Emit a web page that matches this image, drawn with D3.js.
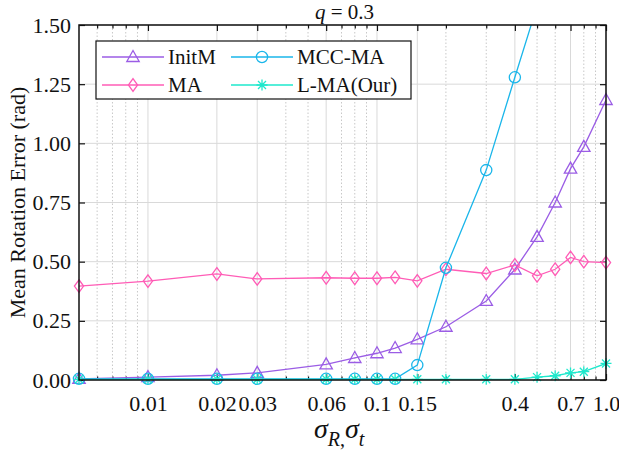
<!DOCTYPE html>
<html>
<head>
<meta charset="utf-8">
<script src="https://cdn.jsdelivr.net/npm/d3@7"></script>
<style>
  body { margin: 0; background: #fff; }
  svg { display: block; font-family: "Liberation Serif", "Times New Roman", serif; }
  .grid-major line { stroke: #d9d9d9; stroke-width: 1; }
  .grid-minor line { stroke: #c8c8c8; stroke-width: 1; stroke-dasharray: 1.5 2; }
  .tick-label { font-size: 22px; fill: #111; font-family: "Liberation Serif", "Times New Roman", serif; }
</style>
</head>
<body>
<svg id="chart" width="619" height="454"></svg>
<script>
// valores
var xValues = [0.005, 0.01, 0.02, 0.03, 0.06, 0.08, 0.1, 0.12, 0.15, 0.2, 0.3, 0.4, 0.5, 0.6, 0.7, 0.8, 1.0];
var initM = [0.005, 0.012, 0.02, 0.03, 0.066, 0.093, 0.113, 0.135, 0.172, 0.225, 0.334, 0.467, 0.605, 0.75, 0.893, 0.985, 1.183];
var ma = [0.397, 0.418, 0.448, 0.427, 0.432, 0.43, 0.43, 0.434, 0.419, 0.468, 0.45, 0.486, 0.44, 0.468, 0.518, 0.5, 0.496];
var mccMA = [0.005, 0.005, 0.005, 0.005, 0.005, 0.005, 0.005, 0.005, 0.063, 0.474, 0.887, 1.279, 1.58];
var lMA = [0.003, 0.003, 0.003, 0.003, 0.003, 0.003, 0.003, 0.003, 0.003, 0.003, 0.003, 0.003, 0.012, 0.018, 0.03, 0.035, 0.07];

var xTicks = [0.01, 0.02, 0.03, 0.06, 0.1, 0.15, 0.4, 0.7, 1.0];
var xTickLabels = ['0.01', '0.02', '0.03', '0.06', '0.1', '0.15', '0.4', '0.7', '1.0'];
var xMinor = [0.006, 0.007, 0.008, 0.009, 0.04, 0.05, 0.07, 0.08, 0.09, 0.2, 0.3, 0.5, 0.6, 0.8, 0.9];
var yTicks = [0, 0.25, 0.5, 0.75, 1.0, 1.25, 1.5];

var seriesNames = ['InitM', 'MA', 'MCC-MA', 'L-MA(Our)'];
var seriesColors = ['#9b5de5', '#ff5cb6', '#1ab6ea', '#1ee8cc'];
var seriesMarkers = ['triangle', 'diamond', 'circle', 'asterisk'];

const margin = { top: 25, right: 13, bottom: 74, left: 79 };
const W = 619, H = 454;
const width = W - margin.left - margin.right;
const height = H - margin.top - margin.bottom;

const svg = d3.select('#chart');
const g = svg.append('g').attr('transform', 'translate(' + margin.left + ',' + margin.top + ')');

const x = d3.scaleLog().domain([0.005, 1]).range([0, width]);
const y = d3.scaleLinear().domain([0, 1.5]).range([height, 0]);

// rejilla
g.append('g').attr('class', 'grid-minor')
  .selectAll('line').data(xMinor).enter().append('line')
  .attr('x1', d => x(d)).attr('x2', d => x(d))
  .attr('y1', 0).attr('y2', height);

g.append('g').attr('class', 'grid-major')
  .selectAll('line').data(xTicks).enter().append('line')
  .attr('x1', d => x(d)).attr('x2', d => x(d))
  .attr('y1', 0).attr('y2', height);

g.append('g').attr('class', 'grid-major')
  .selectAll('line').data(yTicks).enter().append('line')
  .attr('x1', 0).attr('x2', width)
  .attr('y1', d => y(d)).attr('y2', d => y(d));

// ejes con ticks hacia dentro
const axisB = g.append('g').attr('transform', 'translate(0,' + height + ')')
  .call(d3.axisBottom(x).tickValues(xTicks).tickSize(-6).tickPadding(15)
    .tickFormat((d, i) => xTickLabels[i]));
const axisT = g.append('g')
  .call(d3.axisTop(x).tickValues(xTicks).tickSize(-6).tickFormat(''));
const axisBm = g.append('g').attr('transform', 'translate(0,' + height + ')')
  .call(d3.axisBottom(x).tickValues(xMinor).tickSize(-3.5).tickFormat(''));
const axisTm = g.append('g')
  .call(d3.axisTop(x).tickValues(xMinor).tickSize(-3.5).tickFormat(''));
const axisL = g.append('g')
  .call(d3.axisLeft(y).tickValues(yTicks).tickSize(-6).tickPadding(8).tickFormat(d3.format('.2f')));
const axisR = g.append('g').attr('transform', 'translate(' + width + ',0)')
  .call(d3.axisRight(y).tickValues(yTicks).tickSize(-6).tickFormat(''));

[axisB, axisT, axisBm, axisTm, axisL, axisR].forEach(function(a) {
  a.attr('font-family', null).attr('font-size', null);
  a.select('.domain').remove();
  a.selectAll('.tick line').attr('stroke', '#111').attr('stroke-width', 1.2);
  a.selectAll('.tick text').attr('class', 'tick-label');
});

// lineas
g.append('clipPath').attr('id', 'clip')
  .append('rect').attr('x', 0).attr('y', 0).attr('width', width).attr('height', height);

const line = d3.line().x(d => x(d.x)).y(d => y(d.y));
const allSeries = [initM, ma, mccMA, lMA];

function drawMarker(sel, type, color) {
  if (type === 'triangle') {
    sel.append('path').attr('d', 'M0,-6.5L6.2,4.5L-6.2,4.5Z')
      .attr('fill', 'none').attr('stroke', color).attr('stroke-width', 1.3);
  } else if (type === 'diamond') {
    sel.append('path').attr('d', 'M0,-6.3L4.6,0L0,6.3L-4.6,0Z')
      .attr('fill', 'none').attr('stroke', color).attr('stroke-width', 1.3);
  } else if (type === 'circle') {
    sel.append('circle').attr('r', 5.6)
      .attr('fill', 'none').attr('stroke', color).attr('stroke-width', 1.3);
  } else {
    sel.append('path').attr('d', 'M0,-5.5V5.5M-5.5,0H5.5M-4,-4L4,4M-4,4L4,-4')
      .attr('fill', 'none').attr('stroke', color).attr('stroke-width', 1.3);
  }
}

allSeries.forEach(function(vals, i) {
  const pts = vals.map((v, j) => ({ x: xValues[j], y: v }));
  const sg = g.append('g');
  sg.append('path').datum(pts)
    .attr('clip-path', 'url(#clip)')
    .attr('d', line)
    .attr('fill', 'none')
    .attr('stroke', seriesColors[i])
    .attr('stroke-width', 1.3);
  pts.filter(p => p.y <= 1.5).forEach(function(p) {
    const m = sg.append('g').attr('transform', 'translate(' + x(p.x) + ',' + y(p.y) + ')');
    drawMarker(m, seriesMarkers[i], seriesColors[i]);
  });
});

// caja
g.append('rect').attr('x', 0).attr('y', 0).attr('width', width).attr('height', height)
  .attr('fill', 'none').attr('stroke', '#111').attr('stroke-width', 1.5);

// leyenda
const legend = g.append('g').attr('transform', 'translate(' + (96 - margin.left) + ',' + (41 - margin.top) + ')');
legend.append('rect').attr('width', 315).attr('height', 58)
  .attr('fill', '#fff').attr('stroke', '#111').attr('stroke-width', 1.2);
var legendPos = [[6, 16], [6, 44], [135, 16], [135, 44]];
seriesNames.forEach(function(name, i) {
  const it = legend.append('g').attr('transform', 'translate(' + legendPos[i][0] + ',' + legendPos[i][1] + ')');
  it.append('line').attr('x1', 0).attr('x2', 62).attr('stroke', seriesColors[i]).attr('stroke-width', 1.3);
  drawMarker(it.append('g').attr('transform', 'translate(31,0)'), seriesMarkers[i], seriesColors[i]);
  it.append('text').attr('x', 66).attr('y', 7).attr('font-size', 21).attr('fill', '#111').text(name);
});

// titulo
const title = svg.append('text').attr('x', margin.left + width / 2 + 2).attr('y', 19)
  .attr('text-anchor', 'middle').attr('font-size', 21).attr('fill', '#111');
title.append('tspan').attr('font-style', 'italic').text('q');
title.append('tspan').text(' = 0.3');

// etiquetas de ejes
svg.append('text')
  .attr('transform', 'translate(25,' + (margin.top + height / 2) + ') rotate(-90)')
  .attr('text-anchor', 'middle').attr('font-size', 22).attr('fill', '#111')
  .text('Mean Rotation Error (rad)');

const xl = svg.append('text').attr('x', 314).attr('y', 438).attr('font-size', 28)
  .attr('font-style', 'italic').attr('fill', '#111');
xl.append('tspan').text('σ');
xl.append('tspan').attr('font-size', 20).attr('dy', 8).text('R');
xl.append('tspan').attr('font-size', 20).attr('font-style', 'normal').text(',');
xl.append('tspan').attr('dy', -8).text('σ');
xl.append('tspan').attr('font-size', 20).attr('dy', 8).text('t');
</script>
</body>
</html>
